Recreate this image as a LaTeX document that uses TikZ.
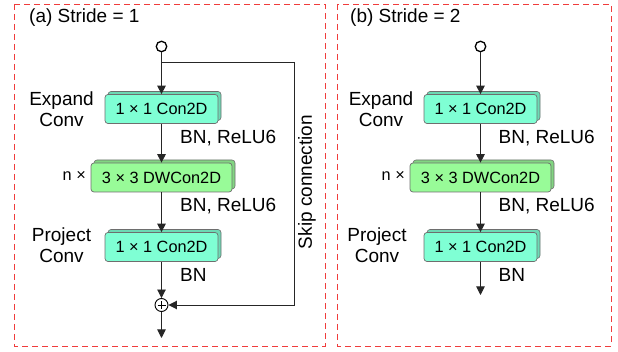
\documentclass[tikz,border=0pt]{standalone}
\usepackage{fontspec}
\setmainfont{Liberation Sans}
\usetikzlibrary{shadows,arrows.meta}
\definecolor{panelred}{RGB}{240,60,60}
\definecolor{aqua}{RGB}{127,255,212}
\definecolor{lgreen}{RGB}{152,251,152}
\definecolor{edgegray}{RGB}{110,110,110}
\begin{document}
\begin{tikzpicture}[x=1pt,y=-1pt,
  panel/.style={draw=panelred,dashed,dash pattern=on 6pt off 4pt,line width=0.9pt},
  convbox/.style={draw=edgegray,line width=0.7pt,rounded corners=3pt,inner sep=0pt,
    minimum height=29pt,font=\fontsize{16.3}{18}\selectfont,
    copy shadow={shadow xshift=3pt,shadow yshift=3pt,draw=edgegray,fill=black!15!#1,line width=0.6pt},fill=#1},
  lbl/.style={font=\fontsize{19}{21}\selectfont,inner sep=0pt},
  nlbl/.style={font=\fontsize{16.3}{18}\selectfont,inner sep=0pt,anchor=east},
  conn/.style={draw=black!85,line width=0.9pt,-{Triangle[length=8.5pt,width=8.5pt]}},
  wire/.style={draw=black!85,line width=0.9pt},
  innode/.style={circle,draw=black,line width=1.3pt,fill=white,minimum size=10.5pt,inner sep=0pt},
  plusnode/.style={circle,draw=black,line width=0.9pt,fill=white,minimum size=13pt,inner sep=0pt,
    path picture={\draw[line width=0.8pt] ([xshift=-4pt]path picture bounding box.center) -- ([xshift=4pt]path picture bounding box.center);
      \draw[line width=0.8pt] ([yshift=-4pt]path picture bounding box.center) -- ([yshift=4pt]path picture bounding box.center);}}
]
\useasboundingbox (0,0) rectangle (618,352);
% panels
\draw[panel] (14,4) rectangle (325,346);
\draw[panel] (337,4) rectangle (611,346);

% ---------- (a) ----------
\node[lbl,anchor=west] (ta) at (29,18) {(a) Stride = 1};
\node[innode] (ina) at (161.5,46.5) {};
\node[convbox=aqua,minimum width=113pt] (a1) at (161.5,109) {1 × 1 Con2D};
\node[convbox=lgreen,minimum width=141pt] (a2) at (161.5,177.5) {3 × 3 DWCon2D};
\node[convbox=aqua,minimum width=113pt] (a3) at (161.5,247) {1 × 1 Con2D};
\node[plusnode] (pa) at (161.5,305) {};
\coordinate (outa) at (161.5,338);
\coordinate (ska) at (294,62);

\draw[conn] (ina) -- (a1);
\draw[conn] (a1) -- (a2);
\draw[conn] (a2) -- (a3);
\draw[conn] (a3) -- (pa);
\draw[conn] (pa) -- (outa);
\draw[wire] (ina |- ska) -- (ska);
\draw[conn] (ska) |- (pa);

\node[lbl,align=center] (ea) at (61.5,109.5) {Expand\\Conv};
\node[lbl,align=center] (pja) at (61.5,245) {Project\\Conv};
\node[nlbl] (na) at (86,176) {n ×};
\node[lbl,anchor=west] (l1a) at (180,138) {BN, ReLU6};
\node[lbl,anchor=west] (l2a) at (180,206) {BN, ReLU6};
\node[lbl,anchor=west] (l3a) at (180,275) {BN};
\node[lbl,rotate=90] (skl) at (307,182) {Skip connection};

% ---------- (b) ----------
\node[lbl,anchor=west] (tb) at (350,18) {(b) Stride = 2};
\node[innode] (inb) at (480.5,46.5) {};
\node[convbox=aqua,minimum width=113pt] (b1) at (480.5,109) {1 × 1 Con2D};
\node[convbox=lgreen,minimum width=141pt] (b2) at (480.5,177.5) {3 × 3 DWCon2D};
\node[convbox=aqua,minimum width=113pt] (b3) at (480.5,247) {1 × 1 Con2D};
\coordinate (outb) at (480.5,295);

\draw[conn] (inb) -- (b1);
\draw[conn] (b1) -- (b2);
\draw[conn] (b2) -- (b3);
\draw[conn] (b3) -- (outb);

\node[lbl,align=center] (eb) at (381,109.5) {Expand\\Conv};
\node[lbl,align=center] (pjb) at (377,245) {Project\\Conv};
\node[nlbl] (nb) at (405,176) {n ×};
\node[lbl,anchor=west] (l1b) at (498.5,138) {BN, ReLU6};
\node[lbl,anchor=west] (l2b) at (498.5,206) {BN, ReLU6};
\node[lbl,anchor=west] (l3b) at (498.5,275) {BN};
\end{tikzpicture}
\end{document}
